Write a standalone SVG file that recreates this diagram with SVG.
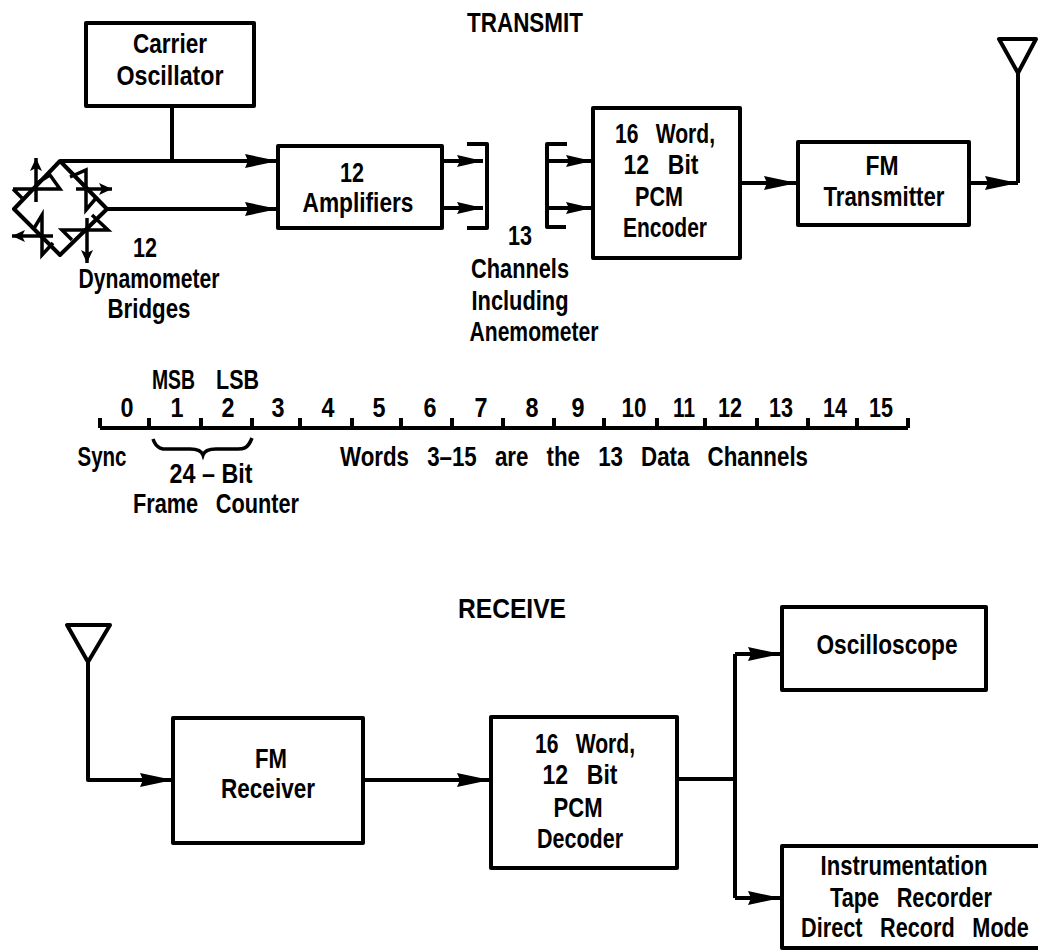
<svg xmlns="http://www.w3.org/2000/svg" width="1038" height="950" viewBox="0 0 1038 950">
<defs>
<marker id="a" markerUnits="userSpaceOnUse" markerWidth="34" markerHeight="16" refX="33" refY="8" orient="auto"><path d="M0 1L33 8L0 15L3 8Z" fill="#000"/></marker>
<marker id="m" markerUnits="userSpaceOnUse" markerWidth="27" markerHeight="14" refX="26" refY="7" orient="auto"><path d="M0 1L26 7L0 13L3 7Z" fill="#000"/></marker>
<marker id="s" markerUnits="userSpaceOnUse" markerWidth="14" markerHeight="14" refX="13" refY="7" orient="auto"><path d="M0 1L13 7L0 13L3 7Z" fill="#000"/></marker>
</defs>
<style>
text{font-family:"Liberation Sans",Arial,sans-serif;font-weight:700;font-size:28px;fill:#000;text-anchor:middle}
.w{word-spacing:15px}
rect,.l{fill:none;stroke:#000;stroke-width:4;stroke-linejoin:round}
.c{fill:none;stroke:#000;stroke-width:3.5}
</style>
<rect width="1038" height="950" style="fill:#fff;stroke:none"/>
<text x="525" y="32" textLength="116" lengthAdjust="spacingAndGlyphs">TRANSMIT</text>
<text x="512" y="618" textLength="108" lengthAdjust="spacingAndGlyphs">RECEIVE</text>
<g id="carrier"><rect x="86" y="23" width="168" height="83"/><text x="170" y="53" textLength="74" lengthAdjust="spacingAndGlyphs">Carrier</text><text x="170" y="85" textLength="107" lengthAdjust="spacingAndGlyphs">Oscillator</text></g>
<g id="amplifiers"><rect x="278" y="146" width="164" height="82"/><text x="352" y="182" textLength="24" lengthAdjust="spacingAndGlyphs">12</text><text x="358" y="212" textLength="111" lengthAdjust="spacingAndGlyphs">Amplifiers</text></g>
<g id="encoder"><rect x="593" y="108" width="147" height="150"/><text class="w" x="665" y="143" textLength="100" lengthAdjust="spacingAndGlyphs">16 Word,</text><text class="w" x="661" y="174" textLength="75" lengthAdjust="spacingAndGlyphs">12 Bit</text><text x="659" y="206" textLength="48" lengthAdjust="spacingAndGlyphs">PCM</text><text x="665" y="237" textLength="84" lengthAdjust="spacingAndGlyphs">Encoder</text></g>
<g id="transmitter"><rect x="798" y="142" width="171" height="83"/><text x="882" y="175" textLength="33" lengthAdjust="spacingAndGlyphs">FM</text><text x="884" y="206" textLength="121" lengthAdjust="spacingAndGlyphs">Transmitter</text></g>
<g id="tx-antenna"><path class="l" d="M999 39H1036L1018 73Z"/></g>
<g id="bridge">
<path class="l" d="M60 161L107 209L60 255L14 209Z"/>
<path class="c" d="M36 202V158" marker-end="url(#s)"/><path class="c" d="M13 189H60L50 175L37 183M13 189L22 198"/>
<path class="c" d="M76 189H112" marker-end="url(#s)"/><path class="c" d="M70 177L86 170V210L97 197"/>
<path class="c" d="M53 236H12" marker-end="url(#s)"/><path class="c" d="M33 230L42 215V255L53 243"/>
<path class="c" d="M87 218V263" marker-end="url(#s)"/><path class="c" d="M72 240L62 230H108L92 215"/>
</g>
<g id="connectors">
<path class="l" d="M60 161H278" marker-end="url(#a)"/>
<path class="l" d="M107 209H278" marker-end="url(#a)"/>
<path class="l" d="M172 106V161"/>
<path class="l" d="M442 161H483" marker-end="url(#m)"/>
<path class="l" d="M442 208H483" marker-end="url(#m)"/>
<path class="l" d="M467 144H487V228H467"/>
<path class="l" d="M567 144H547V227H566"/>
<path class="l" d="M547 161H592" marker-end="url(#m)"/>
<path class="l" d="M547 208H592" marker-end="url(#m)"/>
<path class="l" d="M740 183H797" marker-end="url(#a)"/>
<path class="l" d="M1018 73V183"/>
<path class="l" d="M969 183H1018" marker-end="url(#a)"/>
<path class="l" d="M88 662V780H173" marker-end="url(#a)"/>
<path class="l" d="M363 780H490" marker-end="url(#a)"/>
<path class="l" d="M677 779H735"/>
<path class="l" d="M735 654V898"/>
<path class="l" d="M735 654H781" marker-end="url(#a)"/>
<path class="l" d="M735 898H781" marker-end="url(#a)"/>
</g>
<text x="145" y="257" textLength="24" lengthAdjust="spacingAndGlyphs">12</text>
<text x="149" y="288" textLength="141" lengthAdjust="spacingAndGlyphs">Dynamometer</text>
<text x="149" y="318" textLength="83" lengthAdjust="spacingAndGlyphs">Bridges</text>
<text x="520" y="245" textLength="24" lengthAdjust="spacingAndGlyphs">13</text>
<text x="520" y="278" textLength="98" lengthAdjust="spacingAndGlyphs">Channels</text>
<text x="520" y="310" textLength="97" lengthAdjust="spacingAndGlyphs">Including</text>
<text x="534" y="341" textLength="129" lengthAdjust="spacingAndGlyphs">Anemometer</text>
<g id="word-scale">
<path class="l" d="M100 428H908M100 418V428M149 418V428M201 418V428M252 418V428M300 418V428M352 418V428M401 418V428M452 418V428M503 418V428M554 418V428M604 418V428M657 418V428M705 418V428M757 418V428M808 418V428M857 418V428M908 418V428"/>
<path class="c" d="M153 439C157 451 165 449 172 449H190Q201 449 203 455Q205 449 216 449H234C241 449 247 451 252 438"/>
</g>
<text x="173.500" y="389" textLength="43" lengthAdjust="spacingAndGlyphs">MSB</text><text x="237.500" y="389" textLength="43" lengthAdjust="spacingAndGlyphs">LSB</text>
<g id="word-numbers"><text x="127" y="417" textLength="13" lengthAdjust="spacingAndGlyphs">0</text><text x="177" y="417" textLength="13" lengthAdjust="spacingAndGlyphs">1</text><text x="228" y="417" textLength="13" lengthAdjust="spacingAndGlyphs">2</text><text x="278" y="417" textLength="13" lengthAdjust="spacingAndGlyphs">3</text><text x="328" y="417" textLength="13" lengthAdjust="spacingAndGlyphs">4</text><text x="379" y="417" textLength="13" lengthAdjust="spacingAndGlyphs">5</text><text x="430" y="417" textLength="13" lengthAdjust="spacingAndGlyphs">6</text><text x="481" y="417" textLength="13" lengthAdjust="spacingAndGlyphs">7</text><text x="532" y="417" textLength="13" lengthAdjust="spacingAndGlyphs">8</text><text x="578" y="417" textLength="13" lengthAdjust="spacingAndGlyphs">9</text><text x="634" y="417" textLength="25" lengthAdjust="spacingAndGlyphs">10</text><text x="684" y="417" textLength="22" lengthAdjust="spacingAndGlyphs">11</text><text x="730" y="417" textLength="24" lengthAdjust="spacingAndGlyphs">12</text><text x="781" y="417" textLength="24" lengthAdjust="spacingAndGlyphs">13</text><text x="835" y="417" textLength="24" lengthAdjust="spacingAndGlyphs">14</text><text x="881" y="417" textLength="24" lengthAdjust="spacingAndGlyphs">15</text></g>
<text x="102" y="466" textLength="49" lengthAdjust="spacingAndGlyphs">Sync</text>
<text x="211" y="483" textLength="83" lengthAdjust="spacingAndGlyphs">24 – Bit</text>
<text class="w" x="216" y="513" textLength="166" lengthAdjust="spacingAndGlyphs">Frame Counter</text>
<text class="w" x="574" y="466" textLength="468" lengthAdjust="spacingAndGlyphs">Words 3–15 are the 13 Data Channels</text>
<g id="rx-antenna"><path class="l" d="M67 625H110L88 662Z"/></g>
<g id="receiver"><rect x="173" y="718" width="190" height="125"/><text x="271" y="768" textLength="32" lengthAdjust="spacingAndGlyphs">FM</text><text x="268" y="798" textLength="94" lengthAdjust="spacingAndGlyphs">Receiver</text></g>
<g id="decoder"><rect x="491" y="717" width="186" height="151"/><text class="w" x="585" y="753" textLength="100" lengthAdjust="spacingAndGlyphs">16 Word,</text><text class="w" x="580" y="784" textLength="75" lengthAdjust="spacingAndGlyphs">12 Bit</text><text x="578" y="817" textLength="49" lengthAdjust="spacingAndGlyphs">PCM</text><text x="580" y="848" textLength="86" lengthAdjust="spacingAndGlyphs">Decoder</text></g>
<g id="oscilloscope"><rect x="782" y="607" width="204" height="83"/><text x="887" y="654" textLength="141" lengthAdjust="spacingAndGlyphs">Oscilloscope</text></g>
<g id="recorder"><path class="l" d="M1038 846H782V948H1038"/><text x="904" y="875" textLength="167" lengthAdjust="spacingAndGlyphs">Instrumentation</text><text class="w" x="911" y="907" textLength="162" lengthAdjust="spacingAndGlyphs">Tape Recorder</text><text class="w" transform="translate(915 937) scale(.774 1)">Direct Record Mode</text></g>
</svg>
